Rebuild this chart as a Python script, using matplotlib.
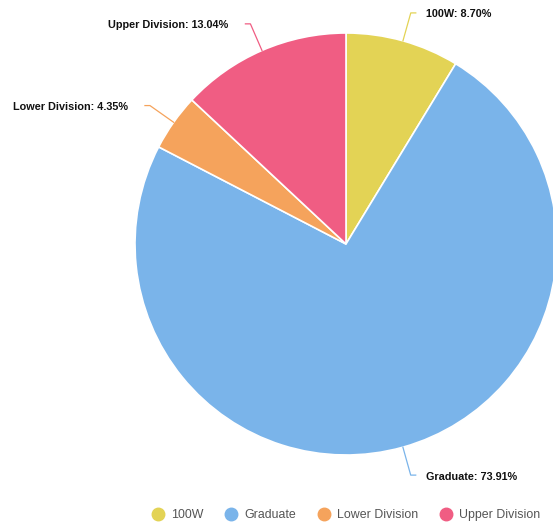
import numpy as np
import matplotlib
matplotlib.use("Agg")
from matplotlib import pyplot as plt
from matplotlib.lines import Line2D

# data
labels = ["100W", "Graduate", "Lower Division", "Upper Division"]
values = [8.70, 73.91, 4.35, 13.04]
colors = ["#E3D355", "#7AB4EA", "#F5A35C", "#F05D83"]

W, H = 553, 523
plt.rcParams['font.family'] = ['Liberation Sans', 'DejaVu Sans']

fig = plt.figure(figsize=(W / 100, H / 100), dpi=100)
ax = fig.add_axes([0, 0, 1, 1])

cx, cy, r = 346, H - 244, 211
wedges, _ = ax.pie(values, colors=colors, startangle=90, counterclock=False,
                   center=(cx, cy), radius=r,
                   wedgeprops=dict(edgecolor="white", linewidth=1.2))
ax.set_xlim(0, W)
ax.set_ylim(0, H)
ax.set_aspect("equal")
ax.axis("off")

# leader lines + labels
for w, lab, val, col in zip(wedges, labels, values, colors):
    ang = np.deg2rad((w.theta1 + w.theta2) / 2)
    x0, y0 = cx + r * np.cos(ang), cy + r * np.sin(ang)
    x1, y1 = cx + (r + 29) * np.cos(ang), cy + (r + 29) * np.sin(ang)
    side = 1 if np.cos(ang) >= 0 else -1
    x2 = x1 + side * 5
    ax.plot([x0, x1, x2], [y0, y1, y1], color=col, lw=0.9, clip_on=False)
    gap = 10 if side > 0 else 17
    ax.text(x2 + side * gap, y1 - 1.5, f"{lab}: {val:.2f}%", fontsize=7.8, fontweight="bold",
            ha="left" if side > 0 else "right", va="center", color="#111111")

handles = [Line2D([], [], marker="o", linestyle="", markersize=9,
                  markerfacecolor=c, markeredgecolor=c) for c in colors]
leg = ax.legend(handles, labels, loc="center", bbox_to_anchor=(346 / W, 1 - 515 / H),
                ncol=4, frameon=False, fontsize=8.9, handletextpad=0.57,
                columnspacing=1.72, handlelength=1.0)
for t in leg.get_texts():
    t.set_color("#555555")

plt.savefig("out.png", dpi=100)
